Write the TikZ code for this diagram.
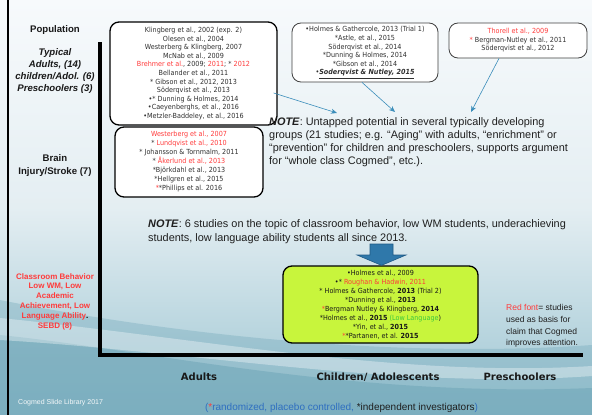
\documentclass[tikz,border=0pt]{standalone}
\usepackage{fontspec}
\setmainfont{Liberation Sans}
\newfontfamily\dvs[FakeStretch=0.92]{DejaVu Sans}
\newfontfamily\dvb{DejaVu Sans}
\usetikzlibrary{arrows.meta,calc}
\definecolor{redf}{HTML}{FF3B3B}
\definecolor{txt}{HTML}{303030}
\definecolor{arrowc}{HTML}{3A8DBA}
\definecolor{limeg}{HTML}{C8F53C}
\definecolor{greenf}{HTML}{3CC83C}
\definecolor{legblue}{HTML}{2F6FC0}
\definecolor{bigarrow}{HTML}{2F78AA}
\definecolor{bigarrowd}{HTML}{1F5A85}
\definecolor{bgtop}{HTML}{F7FAFC}
\definecolor{bgmid}{HTML}{E4EEF2}
\definecolor{bgbot}{HTML}{9CC5D2}
\definecolor{teal1}{HTML}{6FA6B8}
\newcommand{\rd}[1]{\textcolor{redf}{#1}}
\newcommand{\fsz}[2]{\fontsize{#1}{#2}\selectfont}
\begin{document}
\begin{tikzpicture}[x=1pt,y=-1pt,
  refbox/.style={draw=black, line width=1.3pt, rounded corners=9pt, fill=white,
    align=center, inner sep=0pt, text=txt},
  thinbox/.style={refbox, draw=black!75, line width=0.8pt},
  lab/.style={align=center, inner sep=0pt, font=\bfseries\fsz{9.6}{13}, text=black!90},
  ptr/.style={draw=arrowc, line width=0.6pt, -{Stealth[length=6pt,width=5pt]}},
  axlab/.style={inner sep=0pt, font=\dvb\bfseries\fsz{10}{12}, text=black!90},
  notetext/.style={align=left, inner sep=0pt, anchor=north west, text=black!88}]
\useasboundingbox (0,0) rectangle (592,415);
% background
\fill[top color=bgtop, bottom color=bgbot, middle color=bgmid] (0,0) rectangle (592,415);
\fill[teal1, opacity=0.55] (0,335) .. controls (150,350) and (350,398) .. (592,388) -- (592,415) -- (0,415) -- cycle;
\fill[teal1, opacity=0.35] (0,300) .. controls (150,330) and (380,360) .. (592,345) -- (592,415) -- (0,415) -- cycle;
\fill[white, opacity=0.35] (0,318) .. controls (200,338) and (400,378) .. (592,366) -- (592,376) .. controls (400,390) and (200,352) .. (0,340) -- cycle;
% frame line
\draw[line width=2.5pt] (8,0) -- (8,415);
% axes
\coordinate (ytop) at (100,42);
\coordinate (orig) at (100,355);
\coordinate (xend) at (583,355);
\draw[line width=4pt] (ytop) -- (orig) -- (xend);
% left labels
\node[lab] (pop) at (55,30) {Population};
\node[lab, font=\bfseries\itshape\fsz{9.6}{12}] (typ) at (55,71.5) {Typical\\Adults, (14)\\children/Adol. (6)\\Preschoolers (3)};
\node[lab] (brain) at (55,166) {Brain\\Injury/Stroke (7)};
\node[lab, font=\bfseries\fsz{8}{9.8}, text=redf] (cls) at (55,301.5) {Classroom Behavior\\Low WM, Low\\Academic\\Achievement, Low\\Language Ability\textcolor{black}{.}\\SEBD (8)};
% boxes
\node[refbox, minimum width=167pt, minimum height=103pt, font=\dvs\fsz{7}{8.6}] (b1) at (193.5,73.5) {%
Klingberg et al., 2002 (exp. 2)\\
Olesen et al., 2004\\
Westerberg \& Klingberg, 2007\\
McNab et al., 2009\\
\rd{Brehmer et al.}, 2009; \rd{2011}; * \rd{2012}\\
Bellander et al., 2011\\
* Gibson et al., 2012, 2013\\
Söderqvist et al., 2013\\
•* Dunning \& Holmes, 2014\\
•Caeyenberghs, et al., 2016\\
•Metzler-Baddeley, et al., 2016};
\node[refbox, minimum width=148pt, minimum height=70pt, font=\dvs\fsz{7}{9}] (b2) at (189,162) {%
\rd{Westerberg et al., 2007}\\
* \rd{Lundqvist et al., 2010}\\
* Johansson \& Tornmalm, 2011\\
* \rd{Åkerlund et al., 2013}\\
*Björkdahl et al., 2013\\
*Hellgren et al., 2015\\
\rd{*}*Phillips et al. 2016};
\node[thinbox, minimum width=146pt, minimum height=59pt, font=\dvs\fsz{7}{8.6}] (b3) at (365,52.5) {%
•Holmes \& Gathercole, 2013 (Trial 1)\\
*Astle, et al., 2015\\
Söderqvist et al., 2014\\
*Dunning \& Holmes, 2014\\
*Gibson et al., 2014\\
•\underline{\textbf{\textit{Soderqvist \& Nutley, 2015}}}};
\node[thinbox, minimum width=138pt, minimum height=35pt, font=\dvs\fsz{7}{8.5}] (b4) at (518,40.5) {%
\rd{Thorell et al., 2009}\\
\rd{*} Bergman-Nutley et al., 2011\\
Söderqvist et al., 2012};
% pointers
\coordinate (e1) at (337,113);
\coordinate (e3) at (395,112);
\coordinate (e4) at (471,112);
\draw[ptr] ($(b1.east)+(-4,19.5)$) -- (e1);
\draw[ptr] ($(b3.south)+(-3,0)$) -- (e3);
\draw[ptr] ($(b4.south)+(-19,0)$) -- (e4);
% notes
\node[notetext, font=\fsz{10.9}{13.3}] (note1) at (269,117) {\textbf{\textit{NOTE}}: Untapped potential in several typically developing\\
groups (21 studies; e.g. “Aging” with adults, “enrichment” or\\
“prevention” for children and preschoolers, supports argument\\
for “whole class Cogmed”, etc.).};
\node[notetext, font=\fsz{10.9}{13.5}] (note2) at (148,219.5) {\textbf{\textit{NOTE}}: 6 studies on the topic of classroom behavior, low WM students, underachieving\\
students, low language ability students all since 2013.};
% green box
\node[refbox, fill=limeg, minimum width=195pt, minimum height=77pt, text=black!90, font=\dvs\fsz{7}{9}] (g) at (380.5,304.5) {%
•Holmes et al., 2009\\
•* \rd{Roughan \& Hadwin, 2011}\\
* Holmes \& Gathercole, \textbf{2013} (Trial 2)\\
*Dunning et al., \textbf{2013}\\
\rd{*}Bergman Nutley \& Klingberg, \textbf{2014}\\
*Holmes et al., \textbf{2015} \textcolor{greenf}{(Low Language})\\
*Yin, et al., \textbf{2015}\\
\rd{*}*Partanen, et al. \textbf{2015}};
% big arrow
\draw[fill=bigarrow, draw=bigarrowd, line width=0.6pt] (370,244) -- (393,244) -- (393,255) -- (406,255) -- (g.north -| 381.5,0) -- (357,255) -- (370,255) -- cycle;
% red font note
\node[notetext, font=\fsz{8.5}{11.7}] (rednote) at (506,304.5) {\rd{Red font}= studies\\used as basis for\\claim that Cogmed\\improves attention.};
% axis labels
\node[axlab] (adults) at (199,377) {Adults};
\node[axlab] (children) at (378,377) {Children/ Adolescents};
\node[axlab] (presch) at (520,377) {Preschoolers};
% legend
\node[inner sep=0pt, font=\fsz{10}{12}, text=black!88] (legend) at (341.5,408) {\textcolor{legblue}{(}\rd{*}\textcolor{legblue}{randomized, placebo controlled,} *independent investigators\textcolor{legblue}{)}};
\node[inner sep=0pt, anchor=west, font=\fsz{7}{8}, text=white!92!teal1] (lib) at (18,403) {Cogmed Slide Library 2017};
\end{tikzpicture}
\end{document}
